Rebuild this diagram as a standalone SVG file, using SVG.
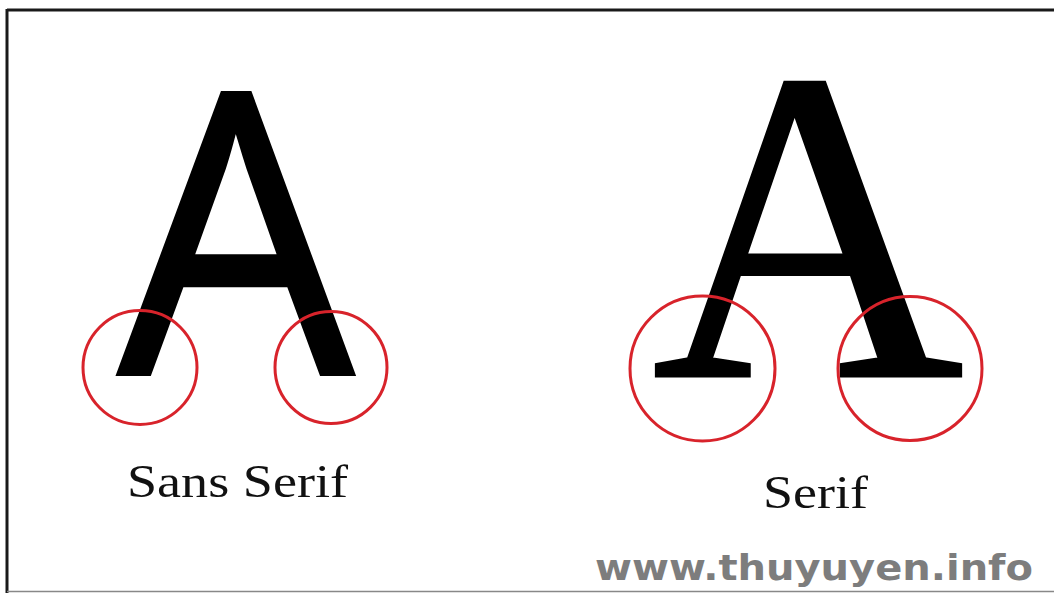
<svg xmlns="http://www.w3.org/2000/svg" width="1054" height="593" viewBox="0 0 1054 593">
<style>
.ring{fill:none;stroke:#d8232b;stroke-width:3}
.lbl{font-family:"Liberation Serif",serif;fill:#111}
</style>
<rect x="0" y="0" width="1054" height="593" fill="#fff"/>
<line x1="7" y1="10" x2="1054" y2="10" stroke="#1a1a1a" stroke-width="3"/>
<line x1="7" y1="9" x2="7" y2="593" stroke="#1a1a1a" stroke-width="3"/>
<line x1="7" y1="591.5" x2="1054" y2="591.5" stroke="#888" stroke-width="1.5"/>
<g id="sans">
<text x="236" y="374" text-anchor="middle" font-family="'Open Sans',sans-serif" font-weight="normal" font-size="392" stroke="#000" stroke-width="4" transform="translate(236 0) scale(0.95 1) translate(-236 0)">A</text>
<circle class="ring" cx="140" cy="367.5" r="57"/>
<circle class="ring" cx="331" cy="367.5" r="56"/>
<text class="lbl" x="127" y="497" font-size="46" textLength="221" lengthAdjust="spacingAndGlyphs">Sans Serif</text>
</g>
<g id="serif">
<text x="808" y="376" text-anchor="middle" font-family="'Liberation Serif',serif" font-weight="normal" font-size="445" stroke="#000" stroke-width="3" transform="translate(808 0) scale(0.97 1) translate(-808 0)">A</text>
<circle class="ring" cx="702.5" cy="368.5" r="72.5"/>
<circle class="ring" cx="910" cy="368.5" r="72"/>
<text class="lbl" x="763" y="508" font-size="46" textLength="105" lengthAdjust="spacingAndGlyphs">Serif</text>
</g>
<g id="watermark">
<text x="595" y="580" font-family="'DejaVu Sans',sans-serif" font-weight="bold" font-size="36" fill="#7d7d7d" textLength="438" lengthAdjust="spacingAndGlyphs">www.thuyuyen.info</text>
</g>
</svg>
